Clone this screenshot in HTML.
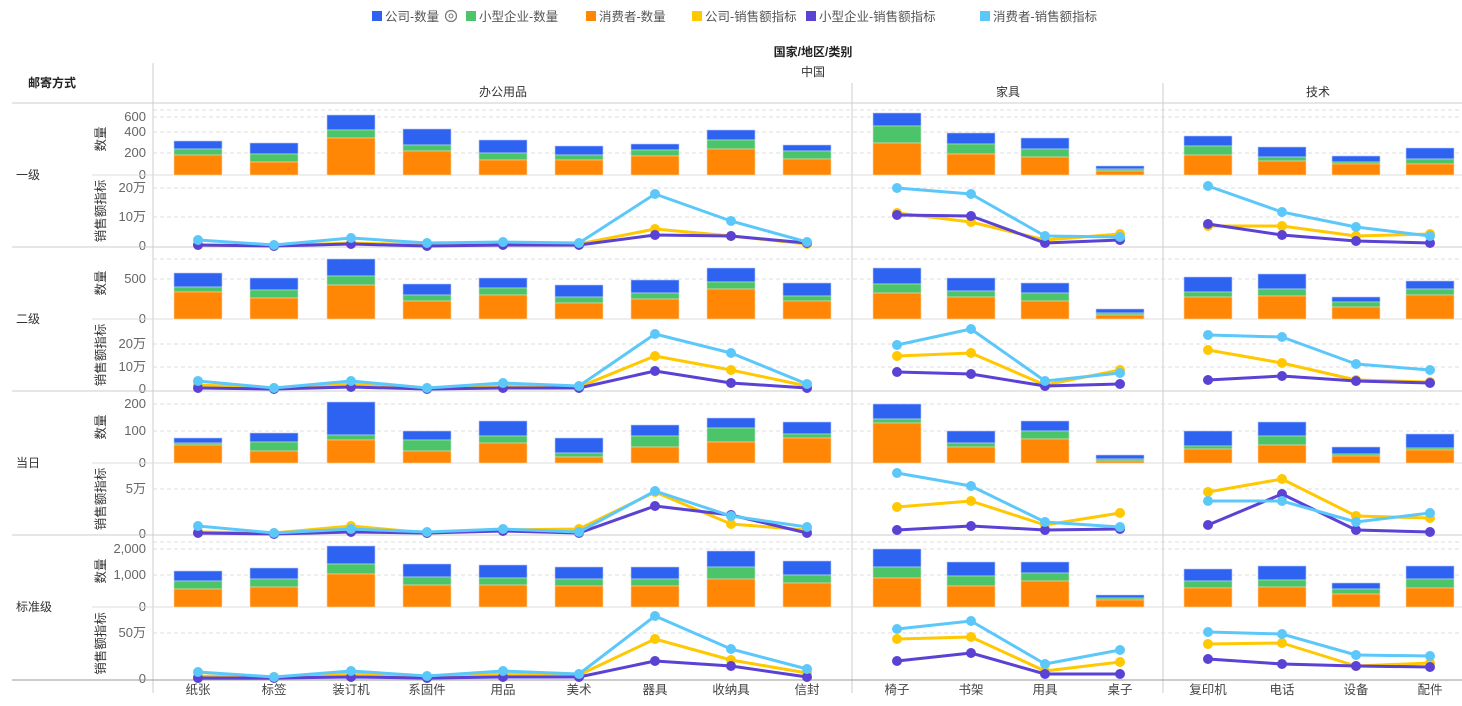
<!DOCTYPE html>
<html><head><meta charset="utf-8"><style>
body{margin:0;background:#fff;}
svg{display:block;font-family:"Liberation Sans","Noto Sans CJK SC",sans-serif;}
</style></head><body>
<svg id="s" width="1462" height="706" xmlns="http://www.w3.org/2000/svg"></svg>
<script>
const S=document.getElementById('s');let h='';
const C={b:'#2E63F2',g:'#4CC46A',o:'#FF8705',y:'#FFC800',p:'#5B41D4',l:'#5CC8FA'};
const leg=[[372,C.b,'公司-数量'],[466,C.g,'小型企业-数量'],[586,C.o,'消费者-数量'],[692,C.y,'公司-销售额指标'],[806,C.p,'小型企业-销售额指标'],[980,C.l,'消费者-销售额指标']];
leg.forEach(([x,c,t])=>{h+=`<rect x="${x}" y="11" width="10" height="10" fill="${c}"/><text x="${x+13}" y="21" font-size="12.5" fill="#555">${t}</text>`;});
h+=`<circle cx="451" cy="16" r="5.5" fill="none" stroke="#777" stroke-width="1.2"/><circle cx="451" cy="16" r="2" fill="none" stroke="#777"/>`;
h+=`<text x="813" y="56" font-size="12" font-weight="bold" fill="#222" text-anchor="middle">国家/地区/类别</text>`;
h+=`<text x="813" y="76" font-size="12" fill="#333" text-anchor="middle">中国</text>`;
h+=`<text x="503" y="96" font-size="12" fill="#333" text-anchor="middle">办公用品</text>`;
h+=`<text x="1008" y="96" font-size="12" fill="#333" text-anchor="middle">家具</text>`;
h+=`<text x="1318" y="96" font-size="12" fill="#333" text-anchor="middle">技术</text>`;
h+=`<text x="28" y="87" font-size="12" font-weight="bold" fill="#222">邮寄方式</text>`;
h+=`<line x1="153" y1="63" x2="153" y2="693" stroke="#ccc"/>`;
h+=`<line x1="852" y1="83" x2="852" y2="693" stroke="#ccc"/><line x1="1163" y1="83" x2="1163" y2="693" stroke="#ccc"/>`;
h+=`<line x1="12" y1="103" x2="1462" y2="103" stroke="#ccc"/>`;
const xs=[198,274,351,427,503,579,655,731,807,897,971,1045,1120,1208,1282,1356,1430];
const names=['纸张','标签','装订机','系固件','用品','美术','器具','收纳具','信封','椅子','书架','用具','桌子','复印机','电话','设备','配件'];
const groups=[[0,9],[9,13],[13,17]];
const rows=[
{name:'一级',top:103,mid:175,bot:247,bt:[[110,''],[117,'600'],[132,'400'],[153,'200'],[175,'0']],lt:[[188,'20万'],[217,'10万'],[246,'0']],
bars:[[155,149,141],[162,154,143],[138,130,115],[151,145,129],[160,153,140],[160,155,146],[156,150,144],[149,140,130],[159,151,145],[143,126,113],[154,144,133],[157,149,138],[171,169,166],[155,146,136],[161,157,147],[164,162,156],[164,159,148]],
l:[240,245,238,243,242,243,194,221,242,188,194,236,237,186,212,227,236],
y:[245,246,243,245,244,244,229,236,244,213,222,240,234,226,226,236,234],
p:[245,246,244,246,245,245,235,236,243,215,216,243,240,224,235,241,243]},
{name:'二级',top:247,mid:319,bot:391,bt:[[259,''],[279,'500'],[319,'0']],lt:[[344,'20万'],[367,'10万'],[389,'0']],
bars:[[292,287,273],[298,290,278],[285,276,259],[301,295,284],[295,288,278],[303,297,285],[299,293,280],[289,282,268],[301,296,283],[293,284,268],[297,291,278],[301,293,283],[315,313,309],[297,292,277],[296,289,274],[307,302,297],[295,289,281]],
l:[381,388,381,388,383,386,334,353,384,345,329,381,373,335,337,364,370],
y:[385,388,384,388,385,387,356,370,386,356,353,385,370,350,363,380,382],
p:[388,389,387,389,388,388,371,383,388,372,374,386,384,380,376,381,383]},
{name:'当日',top:391,mid:463,bot:535,bt:[[404,'200'],[431,'100'],[463,'0']],lt:[[489,'5万'],[534,'0']],
bars:[[445,443,438],[451,442,433],[440,435,402],[451,440,431],[443,436,421],[457,453,438],[447,436,425],[442,428,418],[438,434,422],[423,419,404],[447,443,431],[439,431,421],[461,459,455],[449,446,431],[445,436,422],[456,454,447],[450,448,434]],
l:[526,533,529,532,529,532,491,516,527,473,486,522,527,501,501,522,513],
y:[532,533,526,533,530,529,492,524,530,507,501,525,513,492,479,516,518],
p:[533,534,532,533,531,533,506,515,533,530,526,530,529,525,494,530,532]},
{name:'标准级',top:535,mid:607,bot:680,bt:[[542,''],[549,'2,000'],[575,'1,000'],[607,'0']],lt:[[633,'50万'],[679,'0']],
bars:[[589,581,571],[587,579,568],[574,564,546],[585,577,564],[585,578,565],[586,579,567],[586,579,567],[579,567,551],[583,575,561],[578,567,549],[586,576,562],[581,573,562],[600,598,595],[588,581,569],[587,580,566],[594,589,583],[588,579,566]],
l:[672,677,671,676,671,674,616,649,669,629,621,664,650,632,634,655,656],
y:[676,677,674,677,674,675,639,660,673,639,637,671,662,644,643,666,663],
p:[678,678,677,678,677,677,661,666,677,661,653,674,674,659,664,666,667]}];
rows.forEach((r,ri)=>{
 h+=`<text x="16" y="${r.mid+4}" font-size="12" fill="#333">${r.name}</text>`;
 r.bt.forEach(([y,t])=>{if(t!=='0')h+=`<line x1="153" y1="${y}" x2="1462" y2="${y}" stroke="#ddd" stroke-dasharray="4,3"/>`;if(t)h+=`<text x="146" y="${y+4}" font-size="13" fill="#666" text-anchor="end">${t}</text>`;});
 r.lt.forEach(([y,t])=>{if(t!=='0')h+=`<line x1="153" y1="${y}" x2="1462" y2="${y}" stroke="#ddd" stroke-dasharray="4,3"/>`;h+=`<text x="146" y="${y+4}" font-size="13" fill="#666" text-anchor="end">${t}</text>`;});
 h+=`<line x1="92" y1="${r.mid}" x2="1462" y2="${r.mid}" stroke="#ddd"/>`;
 h+=`<line x1="12" y1="${r.bot}" x2="1462" y2="${r.bot}" stroke="${ri==3?'#999':'#ccc'}"/>`;
 h+=`<text transform="translate(105,${(r.top+r.mid)/2}) rotate(-90)" font-size="12.5" fill="#333" text-anchor="middle">数量</text>`;
 h+=`<text transform="translate(105,${(r.mid+r.bot)/2}) rotate(-90)" font-size="12.5" fill="#333" text-anchor="middle">销售额指标</text>`;
 r.bars.forEach(([o,g,b],i)=>{const x=xs[i]-24,w=48;
  h+=`<rect x="${x}" y="${b}" width="${w}" height="${g-b}" fill="${C.b}" stroke="#b9c8f5" stroke-width="0.6"/>`;
  h+=`<rect x="${x}" y="${g}" width="${w}" height="${o-g}" fill="${C.g}" stroke="#bfe8c9" stroke-width="0.6"/>`;
  h+=`<rect x="${x}" y="${o}" width="${w}" height="${r.mid-o}" fill="${C.o}" stroke="#ffd3a3" stroke-width="0.6"/>`;});
 [['y',C.y],['p',C.p],['l',C.l]].forEach(([k,c])=>{
  groups.forEach(([a,b])=>{let pts=[];for(let i=a;i<b;i++)pts.push(xs[i]+','+r[k][i]);
   h+=`<polyline points="${pts.join(' ')}" fill="none" stroke="${c}" stroke-width="3" stroke-linejoin="round"/>`;
   for(let i=a;i<b;i++)h+=`<circle cx="${xs[i]}" cy="${r[k][i]}" r="5" fill="${c}"/>`;});});
});
xs.forEach((x,i)=>{h+=`<text x="${x}" y="694" font-size="12.5" fill="#444" text-anchor="middle">${names[i]}</text>`;});
S.innerHTML=h;
</script>
</body></html>
